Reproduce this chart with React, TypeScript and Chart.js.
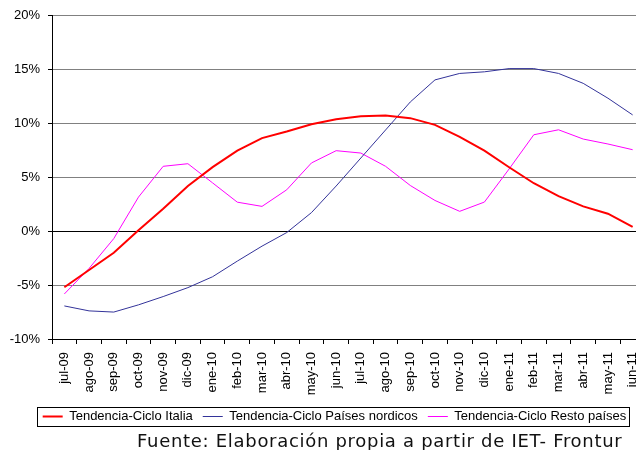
import React, { useEffect, useRef } from "react";
import { Chart, registerables } from "chart.js";

Chart.register(...registerables);

const labels = [
  "jul-09", "ago-09", "sep-09", "oct-09", "nov-09", "dic-09",
  "ene-10", "feb-10", "mar-10", "abr-10", "may-10", "jun-10",
  "jul-10", "ago-10", "sep-10", "oct-10", "nov-10", "dic-10",
  "ene-11", "feb-11", "mar-11", "abr-11", "may-11", "jun-11",
];

const italia = [
  -5.2, -3.6, -2.0, 0.1, 2.1, 4.2, 5.95, 7.48, 8.65, 9.26, 9.94, 10.4,
  10.68, 10.74, 10.5, 9.88, 8.77, 7.48, 5.94, 4.46, 3.26, 2.31, 1.63, 0.4,
];

const nordicos = [
  -6.93, -7.39, -7.5, -6.83, -6.06, -5.23, -4.22, -2.77, -1.38, -0.12, 1.73, 4.2,
  6.8, 9.4, 12.0, 14.05, 14.65, 14.8, 15.1, 15.1, 14.65, 13.73, 12.35, 10.8,
];

const resto = [
  -5.82, -3.45, -0.68, 3.17, 6.03, 6.27, 4.49, 2.7, 2.31, 3.85, 6.34, 7.48,
  7.26, 6.03, 4.25, 2.86, 1.85, 2.71, 5.78, 8.96, 9.42, 8.56, 8.1, 7.57,
];

const seriesNames = [
  "Tendencia-Ciclo Italia",
  "Tendencia-Ciclo Países nordicos",
  "Tendencia-Ciclo Resto países",
];

const source = "Fuente: Elaboración propia a partir de IET- Frontur";

const LEGEND_SHIFT = 12;

const legendShift = {
  id: "legendShift",
  afterLayout(chart: any) {
    const lg = chart.legend;
    if (!lg) return;
    lg.left += LEGEND_SHIFT;
    lg.right += LEGEND_SHIFT;
  },
};

const legendBorder = {
  id: "legendBorder",
  afterDraw(chart: any) {
    const lg = chart.legend;
    if (!lg || !lg.legendHitBoxes || !lg.legendHitBoxes.length) return;
    const hb = lg.legendHitBoxes;
    const first = hb[0];
    const last = hb[hb.length - 1];
    const cy = first.top + first.height / 2;
    const left = first.left - 6;
    const right = last.left + last.width + 2;
    const ctx = chart.ctx;
    ctx.save();
    ctx.strokeStyle = "#000";
    ctx.lineWidth = 1;
    ctx.strokeRect(Math.round(left) + 0.5, Math.round(cy - 9.5) + 0.5, Math.round(right - left), 19);
    ctx.restore();
  },
};

export default function App() {
  const ref = useRef<HTMLCanvasElement | null>(null);

  useEffect(() => {
    if (!ref.current) return;
    const chart = new Chart(ref.current, {
      type: "line",
      data: {
        labels,
        datasets: [
          { label: seriesNames[0], data: italia, borderColor: "#FF0000", backgroundColor: "#FF0000", borderWidth: 2 },
          { label: seriesNames[1], data: nordicos, borderColor: "#333399", backgroundColor: "#333399", borderWidth: 1 },
          { label: seriesNames[2], data: resto, borderColor: "#FF00FF", backgroundColor: "#FF00FF", borderWidth: 1 },
        ],
      },
      options: {
        animation: false,
        responsive: false,
        maintainAspectRatio: false,
        devicePixelRatio: 1,
        elements: { point: { radius: 0, hoverRadius: 0 }, line: { tension: 0 } },
        layout: { padding: { top: 15, left: 0, right: 21, bottom: 17 } },
        plugins: {
          tooltip: { enabled: false },
          title: { display: false },
          legend: {
            display: true,
            position: "bottom",
            labels: {
              usePointStyle: true,
              pointStyle: "line",
              pointStyleWidth: 20,
              boxHeight: 13,
              padding: 10,
              color: "#000",
              font: { family: "Arial, 'Liberation Sans', sans-serif", size: 13 },
            },
          },
        },
        scales: {
          x: {
            type: "category",
            offset: true,
            afterFit: (s: any) => { s.height = 61; },
            grid: {
              offset: true,
              drawOnChartArea: false,
              drawTicks: true,
              tickLength: 5,
              tickColor: "#000",
            },
            border: { display: true, color: "#000", width: 1 },
            ticks: {
              autoSkip: false,
              minRotation: 90,
              maxRotation: 90,
              padding: 8,
              color: "#000",
              font: { family: "Arial, 'Liberation Sans', sans-serif", size: 13 },
            },
          },
          y: {
            min: -10,
            max: 20,
            afterFit: (s: any) => { s.width = 52; },
            grid: {
              color: (c: any) => (c.tick && c.tick.value === 0 ? "#000" : "#808080"),
              tickColor: "#000",
              tickLength: 4,
              drawTicks: true,
            },
            border: { display: true, color: "#000", width: 1 },
            ticks: {
              stepSize: 5,
              padding: 8,
              color: "#000",
              font: { family: "Arial, 'Liberation Sans', sans-serif", size: 13 },
              callback: (v: any) => `${v}%`,
            },
          },
        },
      },
      plugins: [legendShift, legendBorder],
    });
    return () => chart.destroy();
  }, []);

  return (
    <div style={{ position: "fixed", left: 0, top: 0, width: 636, height: 450, overflow: "hidden", background: "#fff" }}>
      <canvas ref={ref} width={666} height={450} style={{ position: "absolute", left: 0, top: 0, width: 666, height: 450 }} />
      <div
        style={{
          position: "absolute",
          left: 137,
          top: 431,
          whiteSpace: "nowrap",
          fontFamily: "'DejaVu Sans', sans-serif",
          fontSize: 18,
          letterSpacing: "0.7px",
          lineHeight: "20px",
          color: "#111",
        }}
      >
        {source}
      </div>
    </div>
  );
}
